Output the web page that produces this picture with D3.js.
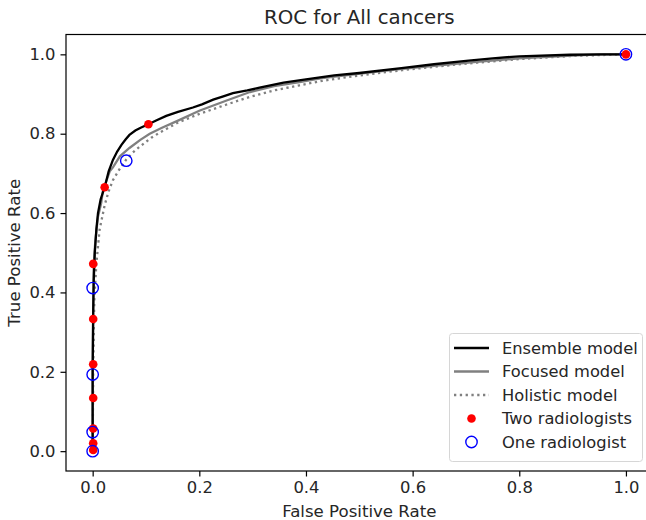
<!DOCTYPE html>
<html><head><meta charset="utf-8">
<script src="https://cdn.jsdelivr.net/npm/d3@7"></script>
<style>body{margin:0;background:#fff}svg text{font-family:"DejaVu Sans",sans-serif;fill:#262626}</style>
</head><body><svg id="c" width="646" height="520"></svg>
<script>
const ensemble = [[0,0],[0,0.2],[0.001,0.35],[0.002,0.43],[0.004,0.5],[0.007,0.56],[0.01,0.6],[0.015,0.635],[0.0225,0.665],[0.03,0.705],[0.038,0.734],[0.046,0.755],[0.054,0.772],[0.062,0.786],[0.069,0.797],[0.08,0.808],[0.09,0.815],[0.1045,0.824],[0.12,0.834],[0.138,0.845],[0.16,0.855],[0.188,0.866],[0.205,0.874],[0.226,0.886],[0.245,0.894],[0.263,0.902],[0.29,0.909],[0.313,0.916],[0.358,0.929],[0.4,0.937],[0.453,0.947],[0.5,0.953],[0.579,0.965],[0.64,0.975],[0.705,0.984],[0.75,0.99],[0.8,0.995],[0.895,0.999],[0.958,1],[1,1]];
const focused = [[0,0],[0,0.2],[0.001,0.35],[0.002,0.47],[0.005,0.53],[0.01,0.591],[0.016,0.625],[0.019,0.655],[0.032,0.705],[0.038,0.715],[0.051,0.743],[0.069,0.764],[0.09,0.785],[0.107,0.8],[0.13,0.815],[0.16,0.833],[0.2,0.858],[0.25,0.883],[0.295,0.905],[0.34,0.92],[0.388,0.93],[0.43,0.94],[0.482,0.948],[0.53,0.956],[0.576,0.963],[0.65,0.972],[0.72,0.981],[0.8,0.99],[0.9,0.997],[0.95,1],[1,1]];
const holistic = [[0,0],[0.001,0.2],[0.003,0.38],[0.007,0.474],[0.013,0.558],[0.0225,0.62],[0.03,0.655],[0.038,0.683],[0.051,0.712],[0.063,0.735],[0.075,0.752],[0.088,0.767],[0.11,0.79],[0.126,0.803],[0.16,0.828],[0.2,0.85],[0.25,0.873],[0.295,0.893],[0.34,0.909],[0.388,0.922],[0.43,0.933],[0.48,0.943],[0.53,0.952],[0.58,0.96],[0.65,0.97],[0.72,0.979],[0.8,0.988],[0.9,0.996],[1,1]];
const twoRadiologists = [[0.001,0.003],[0.001,0.02],[0.001,0.057],[0.001,0.134],[0.001,0.219],[0.001,0.333],[0.001,0.472],[0.0225,0.665],[0.1045,0.824],[1,1]];
const oneRadiologist = [[0,0],[0,0.048],[0,0.193],[0,0.411],[0.063,0.732],[1,1]];
const ticks = [0,0.2,0.4,0.6,0.8,1.0];
const legendLabels = ["Ensemble model","Focused model","Holistic model","Two radiologists","One radiologist"];

const svg = d3.select("#c");
const L=66, R=652.6, T=34.5, B=471;
const x = d3.scaleLinear().domain([-0.05,1.05]).range([L,R]);
const y = d3.scaleLinear().domain([-0.05,1.05]).range([B,T]);

svg.append("defs").append("clipPath").attr("id","clip").append("rect")
  .attr("x",L).attr("y",T).attr("width",R-L).attr("height",B-T);

const g = svg.append("g").attr("clip-path","url(#clip)");
const line = d3.line().x(d=>x(d[0])).y(d=>y(d[1]));
g.append("path").datum(holistic).attr("d",line).attr("fill","none").attr("stroke","#808080").attr("stroke-width",2.3).attr("stroke-dasharray","2.3,3.5");
g.append("path").datum(focused).attr("d",line).attr("fill","none").attr("stroke","#808080").attr("stroke-width",2.3);
g.append("path").datum(ensemble).attr("d",line).attr("fill","none").attr("stroke","#000").attr("stroke-width",2.3);
g.selectAll("circle.two").data(twoRadiologists).join("circle").attr("class","two")
  .attr("cx",d=>x(d[0])).attr("cy",d=>y(d[1])).attr("r",4.3).attr("fill","#ff0000");
g.selectAll("circle.one").data(oneRadiologist).join("circle").attr("class","one")
  .attr("cx",d=>x(d[0])).attr("cy",d=>y(d[1])).attr("r",5.7).attr("fill","none").attr("stroke","#0000ff").attr("stroke-width",1.4);

// axes
const xAxis = d3.axisBottom(x).tickValues(ticks).tickFormat(d3.format(".1f")).tickSize(5.5).tickPadding(4.5);
const yAxis = d3.axisLeft(y).tickValues(ticks).tickFormat(d3.format(".1f")).tickSize(5.5).tickPadding(5);
const gx = svg.append("g").attr("transform",`translate(0,${B})`).call(xAxis);
const gy = svg.append("g").attr("transform",`translate(${L},0)`).call(yAxis);
[gx,gy].forEach(a=>{a.select(".domain").remove();a.selectAll("line").attr("stroke","#000").attr("stroke-width",1.2);
  a.selectAll("text").attr("font-size",16.4).attr("font-family","DejaVu Sans").attr("fill","#262626");});
// spines
svg.append("rect").attr("x",L).attr("y",T).attr("width",R-L).attr("height",B-T).attr("fill","none").attr("stroke","#000").attr("stroke-width",1.2);

svg.append("text").attr("x",(L+R)/2).attr("y",24).attr("text-anchor","middle").attr("font-size",19.8).text("ROC for All cancers");
svg.append("text").attr("x",(L+R)/2).attr("y",517).attr("text-anchor","middle").attr("font-size",16.6).text("False Positive Rate");
svg.append("text").attr("transform",`translate(20,${(T+B)/2}) rotate(-90)`).attr("text-anchor","middle").attr("font-size",16.6).text("True Positive Rate");

// legend
const lg = svg.append("g");
lg.append("rect").attr("x",449.5).attr("y",333.5).attr("width",193).attr("height",128).attr("rx",3)
  .attr("fill","#fff").attr("fill-opacity",0.8).attr("stroke","#d6d6d6").attr("stroke-width",1);
legendLabels.forEach((lab,i)=>{
  const cy = 348 + i*23.5;
  const hx0=454, hx1=489;
  if(i===0) lg.append("line").attr("x1",hx0).attr("x2",hx1).attr("y1",cy).attr("y2",cy).attr("stroke","#000").attr("stroke-width",2.3);
  if(i===1) lg.append("line").attr("x1",hx0).attr("x2",hx1).attr("y1",cy).attr("y2",cy).attr("stroke","#808080").attr("stroke-width",2.3);
  if(i===2) lg.append("line").attr("x1",hx0).attr("x2",hx1).attr("y1",cy).attr("y2",cy).attr("stroke","#808080").attr("stroke-width",2.3).attr("stroke-dasharray","2.3,3.5");
  if(i===3) lg.append("circle").attr("cx",(hx0+hx1)/2).attr("cy",cy).attr("r",4.3).attr("fill","#ff0000");
  if(i===4) lg.append("circle").attr("cx",(hx0+hx1)/2).attr("cy",cy).attr("r",5.7).attr("fill","none").attr("stroke","#0000ff").attr("stroke-width",1.4);
  lg.append("text").attr("x",502).attr("y",cy).attr("dy","0.36em").attr("font-size",16.3).text(lab);
});
</script></body></html>
